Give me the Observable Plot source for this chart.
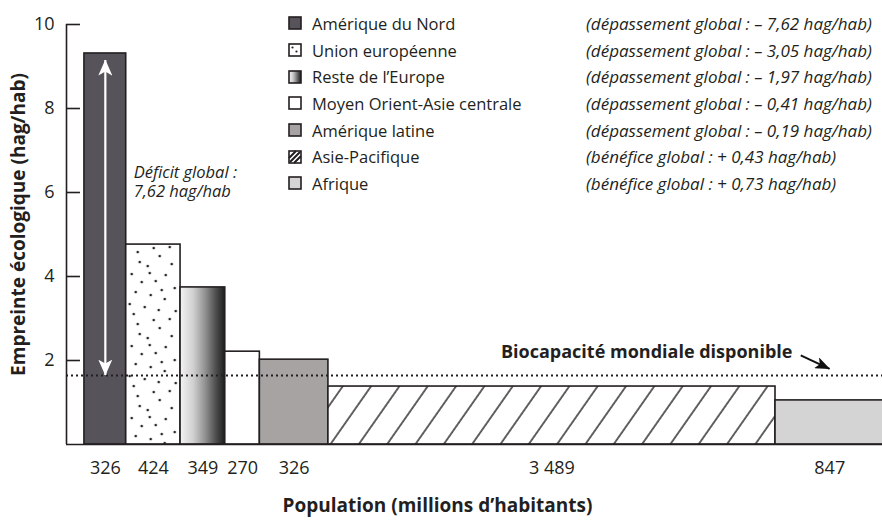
<!DOCTYPE html>
<html><head><meta charset="utf-8">
<script src="https://cdn.jsdelivr.net/npm/d3@7"></script>
<script src="https://cdn.jsdelivr.net/npm/@observablehq/plot@0.6"></script>
<style>
body{margin:0;background:#fff;}
#chart{position:relative;width:882px;height:521px;font-family:"Open Sans",sans-serif;color:#231f20;}
#legend{position:absolute;left:288px;top:10px;display:grid;grid-template-columns:24px 274px auto;grid-auto-rows:26.7px;align-items:center;font-size:16.5px;white-space:nowrap;}
#legend svg{display:block;}
#legend .note{font-style:italic;font-size:17px;}
</style></head><body><div id="chart"></div>
<script>
// ---- data ----
const regions = ["Amérique du Nord","Union européenne","Reste de l’Europe","Moyen Orient-Asie centrale","Amérique latine","Asie-Pacifique","Afrique"];
const population = [326, 424, 349, 270, 535, 3489, 847];          // bar widths (millions)
const populationLabels = ["326","424","349","270","326","3 489","847"];
const footprint = [9.31, 4.76, 3.74, 2.21, 2.02, 1.38, 1.05];     // hag/hab
const balanceNotes = [
  "(dépassement global : – 7,62 hag/hab)",
  "(dépassement global : – 3,05 hag/hab)",
  "(dépassement global : – 1,97 hag/hab)",
  "(dépassement global : – 0,41 hag/hab)",
  "(dépassement global : – 0,19 hag/hab)",
  "(bénéfice global : + 0,43 hag/hab)",
  "(bénéfice global : + 0,73 hag/hab)"
];
const biocapacity = 1.64;
const yTicks = [2, 4, 6, 8, 10];
const yTitle = "Empreinte écologique (hag/hab)";
const xTitle = "Population (millions d’habitants)";
const deficitText = "Déficit global :\n7,62 hag/hab";
const bioText = "Biocapacité mondiale disponible";

// ---- styling ----
const barFills = ["#57535a", "url(#dots)", "url(#grad)", "#ffffff", "#a7a3a3", "url(#hatch)", "#d5d4d4"];
const ink = "#231f20";
const xDomain = [-140, 6228];
const tickLen = 109; // inward tick length in x units (~14px)

const ends = d3.cumsum(population);
const bars = regions.map((region, i) => ({
  region, x1: ends[i] - population[i], x2: ends[i],
  mid: ends[i] - population[i] / 2,
  footprint: footprint[i], label: populationLabels[i], fill: barFills[i]
}));
// annotation anchors (data units)
const deficitNote = {x: ends[0] + 58, y: 6.27, text: deficitText};
const bioLabel = {x: 5525, y: 2.19, text: bioText};
const bioArrow = {x1: 5590, y1: 2.12, x2: 5815, y2: 1.80};

const plot = Plot.plot({
  width: 882, height: 521,
  marginLeft: 66, marginRight: 0, marginTop: 24, marginBottom: 77,
  x: {domain: xDomain, axis: null},
  y: {domain: [0, 10], axis: null},
  color: {type: "identity"},
  style: {fontFamily: "'Open Sans', sans-serif", color: ink, background: "white"},
  marks: [
    Plot.rectY(bars, {x1: "x1", x2: "x2", y: "footprint", fill: "fill", stroke: ink, strokeWidth: 1.6}),
    Plot.ruleY([biocapacity], {stroke: ink, strokeWidth: 2, strokeDasharray: "2,3"}),
    Plot.ruleX(bars.slice(0, 1), {x: "mid", y1: biocapacity, y2: d => d.footprint - 0.17, stroke: "white", strokeWidth: 2.2}),
    Plot.ruleY([0], {stroke: ink, strokeWidth: 1.6}),
    Plot.ruleX([xDomain[0]], {y1: 0, y2: 10, stroke: ink, strokeWidth: 1.6}),
    Plot.ruleY(yTicks, {x1: xDomain[0], x2: xDomain[0] + tickLen, stroke: ink, strokeWidth: 1.6}),
    Plot.axisY({ticks: yTicks, tickSize: 0, tickPadding: 12, fontSize: 18, label: null}),
    Plot.text(bars, {x: "mid", y: 0, text: "label", dy: 24, fontSize: 18}),
    Plot.text([deficitNote], {x: "x", y: "y", text: "text", textAnchor: "start", fontStyle: "italic", fontSize: 16.5, lineHeight: 1.15}),
    Plot.text([bioLabel], {x: "x", y: "y", text: "text", textAnchor: "end", fontWeight: "bold", fontSize: 18}),
    Plot.link([bioArrow], {x1: "x1", y1: "y1", x2: "x2", y2: "y2", stroke: "#111", strokeWidth: 2}),
    Plot.text([yTitle], {frameAnchor: "left", textAnchor: "middle", rotate: -90, dx: -48, dy: -10, fontWeight: "bold", fontSize: 19}),
    Plot.text([xTitle], {frameAnchor: "bottom", textAnchor: "middle", dx: -37, dy: 67, fontWeight: "bold", fontSize: 19})
  ]
});

// ---- defs: patterns, gradient, arrow heads ----
const root = d3.select(plot);
const defs = root.insert("defs", ":first-child");
const xs = plot.scale("x"), ys = plot.scale("y");

const dots = defs.append("pattern").attr("id", "dots").attr("patternUnits", "userSpaceOnUse")
  .attr("width", 54).attr("height", 72)
  .attr("x", xs.apply(bars[1].x1)).attr("y", ys.apply(bars[1].footprint));
dots.append("rect").attr("width", 54).attr("height", 72).attr("fill", "white");
[[12,8],[34,12],[46,20],[22,22],[6,30],[40,31],[16,38],[30,37],[49,44],[10,48],[25,51],[39,55],
 [4,60],[19,63],[33,66],[50,67],[28,4],[44,3],[14,18],[36,46],[8,70],[24,29]].forEach(([cx, cy]) =>
  dots.append("circle").attr("cx", cx).attr("cy", cy).attr("r", 1.3).attr("fill", ink));

const grad = defs.append("linearGradient").attr("id", "grad").attr("x1", 0).attr("x2", 1).attr("y1", 0).attr("y2", 0);
[[0, "#f4f4f4"], [0.3, "#cfcfcf"], [0.55, "#949494"], [0.8, "#4e4e4e"], [1, "#1e1e1e"]].forEach(([o, c]) =>
  grad.append("stop").attr("offset", o).attr("stop-color", c));

const hatch = defs.append("pattern").attr("id", "hatch").attr("patternUnits", "userSpaceOnUse")
  .attr("width", 23.2).attr("height", 10)
  .attr("patternTransform", `translate(${xs.apply(bars[5].x1) + 1.5},${ys.apply(0)}) rotate(35)`);
hatch.append("rect").attr("width", 23.2).attr("height", 10).attr("fill", "white");
hatch.append("line").attr("x1", 1).attr("x2", 1).attr("y1", -1).attr("y2", 11).attr("stroke", ink).attr("stroke-width", 1.4);

function marker(id, color, w, h) {
  const m = defs.append("marker").attr("id", id).attr("viewBox", `0 0 ${w} ${h}`)
    .attr("refX", w - 0.5).attr("refY", h / 2).attr("markerWidth", w).attr("markerHeight", h)
    .attr("markerUnits", "userSpaceOnUse").attr("orient", "auto-start-reverse");
  m.append("path").attr("d", `M0,0L${w},${h / 2}L0,${h}L${w * 0.25},${h / 2}Z`).attr("fill", color);
}
marker("headWhite", "white", 16, 14);
marker("headBlack", "#111", 15, 12);
root.selectAll('g[stroke="white"] line').attr("marker-start", "url(#headWhite)").attr("marker-end", "url(#headWhite)");
root.selectAll('g[stroke="#111"] path').attr("marker-end", "url(#headBlack)");

const chart = document.getElementById("chart");
chart.appendChild(plot);

// ---- legend overlay ----
const swatchInner = [
  `<rect x="1" y="1" width="12" height="12" fill="#57535a" stroke="${ink}" stroke-width="1.6"/>`,
  `<rect x="1" y="1" width="12" height="12" fill="white" stroke="${ink}" stroke-width="1.6"/><circle cx="4.5" cy="4.5" r="1.1" fill="${ink}"/><circle cx="8.5" cy="8.5" r="1.1" fill="${ink}"/>`,
  `<rect x="1" y="1" width="12" height="12" fill="url(#grad)" stroke="${ink}" stroke-width="1.6"/>`,
  `<rect x="1" y="1" width="12" height="12" fill="white" stroke="${ink}" stroke-width="1.6"/>`,
  `<rect x="1" y="1" width="12" height="12" fill="#a7a3a3" stroke="${ink}" stroke-width="1.6"/>`,
  `<rect x="1" y="1" width="12" height="12" fill="white" stroke="${ink}" stroke-width="1.6"/><path d="M2,12L12,2M1,8L8,1M6,13L13,6" stroke="${ink}" stroke-width="2"/>`,
  `<rect x="1" y="1" width="12" height="12" fill="#d5d4d4" stroke="${ink}" stroke-width="1.6"/>`
];
const legend = document.createElement("div");
legend.id = "legend";
regions.forEach((r, i) => {
  legend.insertAdjacentHTML("beforeend",
    `<svg width="14" height="14">${swatchInner[i]}</svg><span>${r}</span><span class="note">${balanceNotes[i]}</span>`);
});
chart.appendChild(legend);
</script></body></html>
